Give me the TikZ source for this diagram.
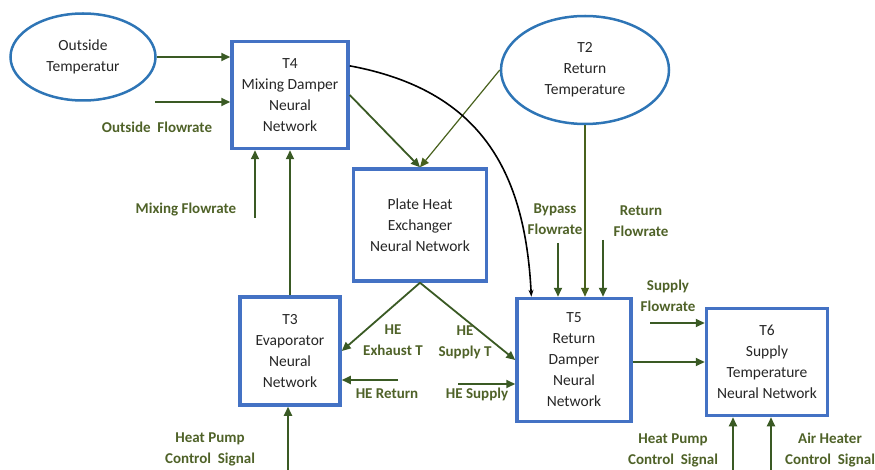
\documentclass[tikz,border=0pt]{standalone}
\usepackage{fontspec}
\setmainfont{Carlito}
\usepackage{tikz}
\usetikzlibrary{shapes.geometric, arrows.meta, positioning, calc}

\definecolor{boxblue}{HTML}{4472C4}
\definecolor{ellblue}{HTML}{2E75B6}
\definecolor{flowgreen}{HTML}{3A5A24}
\definecolor{lblgreen}{HTML}{4F6228}
\definecolor{txtgray}{HTML}{262626}

\tikzset{
    nnbox/.style={draw=boxblue, line width=3.5pt, fill=white, align=center,
        text=txtgray, inner sep=2pt},
    inell/.style={ellipse, draw=ellblue, line width=2.5pt, align=center,
        text=txtgray, inner sep=0pt},
    flow/.style={-{Triangle[length=9pt,width=8pt]}, draw=flowgreen, line width=1.8pt},
    thinflow/.style={-{Triangle[length=9pt,width=8pt]}, draw=flowgreen!80!olive, line width=1.2pt},
    lbl/.style={text=lblgreen, font=\fontsize{15}{21}\selectfont\bfseries,
        align=center, inner sep=1pt}
}

\begin{document}
\begin{tikzpicture}[%
    x=1pt, y=-1pt,      % pixel grid, y downwards
    font=\fontsize{15.5}{21}\selectfont
]
    \useasboundingbox (0,0) rectangle (875,470);

    % ==========================================
    % 1. Inputs (ellipses)
    % ==========================================
    \node[inell, minimum width=145, minimum height=87] (otemp) at (83, 57) {Outside\\Temperatur};
    \node[inell, minimum width=168, minimum height=108] (t2) at (585, 70) {T2\\Return\\Temperature};

    % ==========================================
    % 2. Neural network blocks
    % ==========================================
    \node[nnbox, minimum width=116, minimum height=107] (t4) at (290, 95) {T4\\Mixing Damper\\Neural\\Network};
    \node[nnbox, minimum width=133, minimum height=112] (phe) at (420, 225) {Plate Heat\\Exchanger\\Neural Network};
    \node[nnbox, minimum width=100, minimum height=108] (t3) at (290, 351) {T3\\Evaporator\\Neural\\Network};
    \node[nnbox, minimum width=114, minimum height=123] (t5) at (574, 360) {T5\\Return\\Damper\\Neural\\Network};
    \node[nnbox, minimum width=121, minimum height=107] (t6) at (767, 362) {T6\\Supply\\Temperature\\Neural Network};

    % ==========================================
    % 3. Free ends of the input arrows
    % ==========================================
    \coordinate (ofl) at (155, 102);
    \coordinate (mfl) at (255, 218);
    \coordinate (bfl) at (558, 243);
    \coordinate (rfl) at (603, 240);
    \coordinate (sfl) at (650, 323);
    \coordinate (her) at (398, 380);
    \coordinate (hes) at (458, 384);
    \coordinate (hp3) at (288, 470);
    \coordinate (hp6) at (733, 470);
    \coordinate (ah6) at (771, 470);

    % ==========================================
    % 4. Connectors
    % ==========================================
    \draw[flow] (otemp.east) -- (otemp.east -| t4.west);
    \draw[flow] (ofl) -- (ofl -| t4.west);
    \draw[flow] (mfl) -- (mfl |- t4.south);
    \draw[flow] (t3.north) -- (t4.south);
    \draw[flow] (t4.east) -- (phe.north);
    \draw[thinflow] (t2.west) -- (phe.north);
    \draw[thinflow] (t2.south) -- (t2.south |- t5.north);
    \draw[flow] (bfl) -- (bfl |- t5.north);
    \draw[flow] (rfl) -- (rfl |- t5.north);
    % Black curve from T4 to T5
    \draw[-{Stealth[length=7pt,width=5pt]}, line width=1.6pt, black]
        (t4.26) .. controls (480, 90) and (525, 170) .. (t5.124);
    \draw[flow] (phe.south) -- (t3.east);
    \draw[flow] (phe.south) -- (t5.west);
    \draw[flow] (her) -- (her -| t3.east);
    \draw[flow] (hes) -- (hes -| t5.west);
    \draw[flow] (t5.east |- t6.west) -- (t6.west);
    \draw[flow] (sfl) -- (sfl -| t6.west);
    \draw[flow] (hp3) -- (hp3 |- t3.south);
    \draw[flow] (hp6) -- (hp6 |- t6.south);
    \draw[flow] (ah6) -- (ah6 |- t6.south);

    % ==========================================
    % 5. Labels
    % ==========================================
    \node[lbl] (lofl) at (157, 127) {Outside\ \ Flowrate};
    \node[lbl] (lmfl) at (186, 210) {Mixing Flowrate};
    \node[lbl] (lbfl) at (555, 219) {Bypass\\Flowrate};
    \node[lbl] (lrfl) at (641, 221) {Return\\Flowrate};
    \node[lbl] (lsfl) at (668, 296) {Supply\\Flowrate};
    \node[lbl] (lhex) at (393, 340) {HE\\Exhaust T};
    \node[lbl] (lhst) at (465, 342) {HE\\Supply T};
    \node[lbl] (lher) at (387, 394) {HE Return};
    \node[lbl] (lhes) at (477, 394) {HE Supply};
    \node[lbl] (lhp3) at (210, 449) {Heat Pump\\Control\ \ Signal};
    \node[lbl] (lhp6) at (673, 450) {Heat Pump\\Control\ \ Signal};
    \node[lbl] (lah6) at (830, 450) {Air Heater\\Control\ \ Signal};

\end{tikzpicture}
\end{document}
